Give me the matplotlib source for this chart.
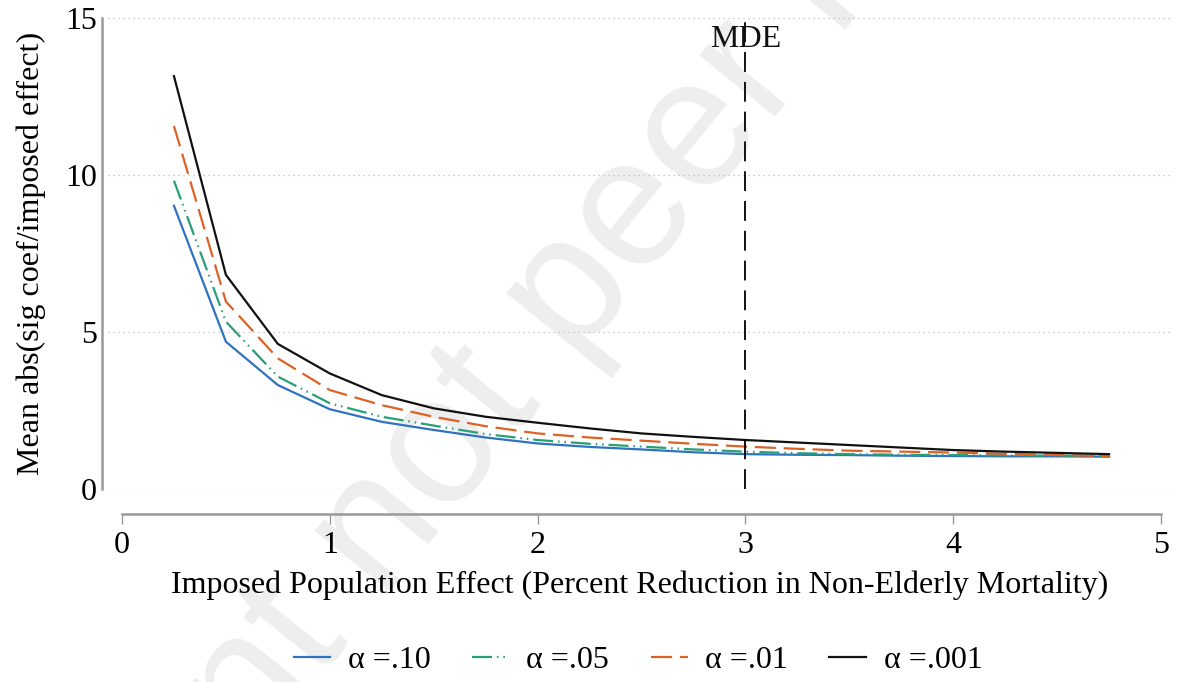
import matplotlib
matplotlib.use("Agg")
import matplotlib.pyplot as plt
import numpy as np

# ---- data ----
effect = [0.25, 0.5, 0.75, 1.0, 1.25, 1.5, 1.75, 2.0, 2.25, 2.5, 2.75, 3.0,
          3.25, 3.5, 3.75, 4.0, 4.25, 4.5, 4.75]
alpha_10 = [9.02, 4.69, 3.31, 2.54, 2.14, 1.88, 1.64, 1.45, 1.34, 1.26, 1.17, 1.11,
            1.09, 1.08, 1.06, 1.05, 1.04, 1.04, 1.03]
alpha_05 = [9.82, 5.33, 3.58, 2.73, 2.30, 2.02, 1.75, 1.56, 1.44, 1.35, 1.26, 1.19,
            1.14, 1.11, 1.09, 1.08, 1.07, 1.06, 1.05]
alpha_01 = [11.56, 5.97, 4.16, 3.15, 2.67, 2.30, 2.00, 1.77, 1.64, 1.54, 1.44, 1.35,
            1.28, 1.22, 1.19, 1.16, 1.12, 1.08, 1.05]
alpha_001 = [13.15, 6.82, 4.62, 3.68, 2.99, 2.57, 2.30, 2.11, 1.93, 1.77, 1.66, 1.56,
             1.48, 1.40, 1.32, 1.24, 1.19, 1.15, 1.11]
labels = ["α =.10", "α =.05", "α =.01", "α =.001"]
mde = 3.0
xticks = [0, 1, 2, 3, 4, 5]
yticks = [0, 5, 10, 15]

plt.rcParams['font.family'] = ['Liberation Serif', 'DejaVu Serif']

W, H = 1177, 682
fig = plt.figure(figsize=(W / 100, H / 100), dpi=100)

# watermark
fig.text(586 / W, 1 - 274 / H, "Preprint not peer reviewed", rotation=51,
         ha="center", va="center", rotation_mode="anchor",
         fontsize=132, color="#eeeeee", family="Liberation Sans", zorder=-5)

ax = fig.add_axes([108 / W, 1 - 489 / H, (1172 - 108) / W, (489 - 18) / H])
ax.set_facecolor("none")
ax.set_xlim((108 - 122) / 207.8, (1172 - 122) / 207.8)
ax.set_ylim(0, 15)

colors = ["#2f72c0", "#27a077", "#dc6226", "#111111"]
styles = ["-", (0, (9, 2.2, 0.7, 2.2, 0.7, 2.2)), (0, (9.5, 3.5)), "-"]
series = [alpha_10, alpha_05, alpha_01, alpha_001]
for ys, c, ls, lab in zip(series, colors, styles, labels):
    ax.plot(effect, ys, color=c, linestyle=ls, linewidth=1.6, label=lab)

ax.axvline(mde, color="black", linestyle=(0, (11, 5.5)), linewidth=1.3)
ax.text(mde, 14.3, "MDE", ha="center", va="center", fontsize=23, color="#111111")

for y in yticks:
    ax.axhline(y, color="#bbbbbb", linestyle=(0, (1, 3)), linewidth=0.9, zorder=0)

for s in ["top", "right"]:
    ax.spines[s].set_visible(False)
ax.spines["left"].set_position(("outward", 4))
ax.spines["bottom"].set_position(("outward", 18))
ax.spines["left"].set_color("#999999")
ax.spines["bottom"].set_color("#999999")
ax.spines["left"].set_linewidth(1.8)
ax.spines["bottom"].set_linewidth(1.8)
ax.spines["bottom"].set_bounds(0, 5)

ax.set_xticks(xticks)
ax.set_yticks(yticks)
ax.tick_params(axis="x", length=7, width=1, color="#999999", labelsize=23, pad=5)
ax.tick_params(axis="y", length=0, labelsize=23, pad=4)

ax.set_xlabel("Imposed Population Effect (Percent Reduction in Non-Elderly Mortality)",
              fontsize=23, labelpad=8)
ax.set_ylabel("Mean abs(sig coef/imposed effect)", fontsize=23, labelpad=14)

leg = fig.legend(loc="center", bbox_to_anchor=(638 / W, 1 - 660 / H), ncol=4,
                 frameon=False, fontsize=23, handlelength=1.15, columnspacing=1.3,
                 handletextpad=0.55)

fig.savefig("out.png", dpi=100)
